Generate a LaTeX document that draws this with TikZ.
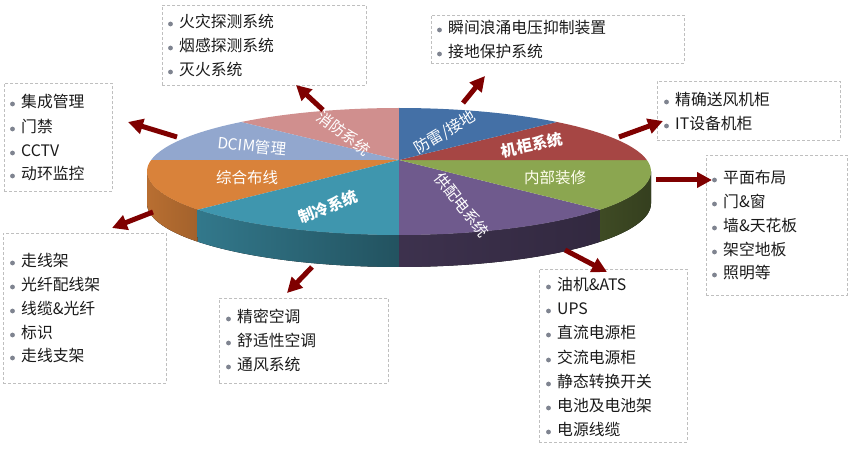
\documentclass[tikz,border=0pt]{standalone}
\usepackage{fontspec}
\setmainfont{Noto Sans CJK SC}
\usetikzlibrary{arrows.meta}
\definecolor{cFire}{HTML}{D08F8E}
\definecolor{cLight}{HTML}{4470A6}
\definecolor{cCab}{HTML}{A64644}
\definecolor{cInt}{HTML}{8BA650}
\definecolor{cPow}{HTML}{6F5A8D}
\definecolor{cCool}{HTML}{3F96AE}
\definecolor{cWire}{HTML}{D9823A}
\definecolor{cDcim}{HTML}{92A7CE}
\definecolor{cArrow}{HTML}{7F0000}
\definecolor{cBox}{HTML}{BFBFBF}
\definecolor{cBul}{HTML}{7F8490}
\definecolor{cTxt}{HTML}{1A1A1A}
\newcommand\bitem[4]{\fill[cBul] (#2-8.5,#3+1) circle (2.4pt); \node[item] (#1) at (#2,#3+1) {#4};}
\def\cx{399}\def\cy{171.5}\def\ra{252}\def\rb{63.5}\def\dep{32}
\begin{document}
\begin{tikzpicture}[x=1pt,y=-1pt,
  boxx/.style={draw=cBox, dash pattern=on 3pt off 2pt, line width=0.8pt, inner sep=0pt, anchor=north west},
  item/.style={anchor=west, inner sep=0pt, text=cTxt, font=\fontsize{15.8}{18}\selectfont, text height=0.88em, text depth=0.12em},
  lbl/.style={inner sep=0pt, text=white, font=\fontsize{15.5}{18}\selectfont},
  arr/.style={draw=cArrow, line width=5pt, -{Triangle[length=15pt,width=15pt]}}]
\useasboundingbox (0,0) rectangle (852,449);
% sides
\fill[left color=cWire!85!black, right color=cWire!75!black]
  plot[domain=180:217,samples=30] ({\cx+\ra*cos(\x)},{\cy-\rb*sin(\x)})
  -- plot[domain=217:180,samples=30] ({\cx+\ra*cos(\x)},{\cy+\dep-\rb*sin(\x)}) -- cycle;
\fill[left color=cCool!80!black, right color=cCool!55!black]
  plot[domain=217:270,samples=40] ({\cx+\ra*cos(\x)},{\cy-\rb*sin(\x)})
  -- plot[domain=270:217,samples=40] ({\cx+\ra*cos(\x)},{\cy+\dep-\rb*sin(\x)}) -- cycle;
\fill[left color=cPow!55!black, right color=cPow!45!black]
  plot[domain=270:323,samples=40] ({\cx+\ra*cos(\x)},{\cy-\rb*sin(\x)})
  -- plot[domain=323:270,samples=40] ({\cx+\ra*cos(\x)},{\cy+\dep-\rb*sin(\x)}) -- cycle;
\fill[left color=cInt!45!black, right color=cInt!38!black]
  plot[domain=323:360,samples=30] ({\cx+\ra*cos(\x)},{\cy-\rb*sin(\x)})
  -- plot[domain=360:323,samples=30] ({\cx+\ra*cos(\x)},{\cy+\dep-\rb*sin(\x)}) -- cycle;
% tops
\fill[cFire]  (399,160) -- plot[domain=90:128.8,samples=30] ({\cx+\ra*cos(\x)},{\cy-\rb*sin(\x)}) -- cycle;
\fill[cDcim]  (399,160) -- plot[domain=128.8:169.6,samples=30] ({\cx+\ra*cos(\x)},{\cy-\rb*sin(\x)}) -- cycle;
\fill[cWire]  (399,160) -- plot[domain=169.6:217,samples=30] ({\cx+\ra*cos(\x)},{\cy-\rb*sin(\x)}) -- cycle;
\fill[cCool]  (399,160) -- plot[domain=217:270,samples=40] ({\cx+\ra*cos(\x)},{\cy-\rb*sin(\x)}) -- cycle;
\fill[cPow]   (399,160) -- plot[domain=270:323,samples=40] ({\cx+\ra*cos(\x)},{\cy-\rb*sin(\x)}) -- cycle;
\fill[cInt]   (399,160) -- plot[domain=323:370.4,samples=30] ({\cx+\ra*cos(\x)},{\cy-\rb*sin(\x)}) -- cycle;
\fill[cCab]   (399,160) -- plot[domain=10.4:51.2,samples=30] ({\cx+\ra*cos(\x)},{\cy-\rb*sin(\x)}) -- cycle;
\fill[cLight] (399,160) -- plot[domain=51.2:90,samples=30] ({\cx+\ra*cos(\x)},{\cy-\rb*sin(\x)}) -- cycle;
% slice labels
\node[lbl, rotate=-37] (lFire) at (344,133) {消防系统};
\node[lbl, rotate=-6] (lDcim) at (252,146) {DCIM管理};
\node[lbl] (lWire) at (247,178) {综合布线};
\node[lbl, rotate=21, font=\fontsize{15.5}{18}\selectfont\bfseries] (lCool) at (328,207) {制冷系统};
\node[lbl, rotate=31] (lLight) at (445,133) {防雷/接地};
\node[lbl, rotate=12, font=\fontsize{15.5}{18}\selectfont\bfseries] (lCab) at (532,145) {机柜系统};
\node[lbl, text=white!93!yellow] (lInt) at (555,178) {内部装修};
\node[lbl, rotate=-52] (lPow) at (462,205) {供配电系统};
% boxes
\node[boxx, minimum width=204pt, minimum height=80pt] (bFire) at (162,5) {};
\bitem{f1}{179}{23}{火灾探测系统}
\bitem{f2}{179}{47}{烟感探测系统}
\bitem{f3}{179}{71}{灭火系统}
\node[boxx, minimum width=108pt, minimum height=108pt] (bDcim) at (4,83) {};
\bitem{d1}{21}{103}{集成管理}
\bitem{d2}{21}{128}{门禁}
\bitem{d3}{21}{152}{CCTV}
\bitem{d4}{21}{175}{动环监控}
\node[boxx, minimum width=253pt, minimum height=48pt] (bLight) at (431,15) {};
\bitem{g1}{448}{29}{瞬间浪涌电压抑制装置}
\bitem{g2}{448}{53}{接地保护系统}
\node[boxx, minimum width=183pt, minimum height=59pt] (bCab) at (657,81) {};
\bitem{c1}{675}{101}{精确送风机柜}
\bitem{c2}{675}{125}{IT设备机柜}
\node[boxx, minimum width=141pt, minimum height=140pt] (bInt) at (706,155) {};
\bitem{i1}{723}{179}{平面布局}
\bitem{i2}{723}{203}{门\&窗}
\bitem{i3}{723}{227}{墙\&天花板}
\bitem{i4}{723}{251}{架空地板}
\bitem{i5}{723}{274}{照明等}
\node[boxx, minimum width=148pt, minimum height=173pt] (bPow) at (539,269) {};
\bitem{p1}{557}{286}{油机\&ATS}
\bitem{p2}{557}{310}{UPS}
\bitem{p3}{557}{334}{直流电源柜}
\bitem{p4}{557}{359}{交流电源柜}
\bitem{p5}{557}{383}{静态转换开关}
\bitem{p6}{557}{407}{电池及电池架}
\bitem{p7}{557}{431}{电源线缆}
\node[boxx, minimum width=163pt, minimum height=150pt] (bWire) at (3,233) {};
\bitem{w1}{21}{262}{走线架}
\bitem{w2}{21}{286}{光纤配线架}
\bitem{w3}{21}{310}{线缆\&光纤}
\bitem{w4}{21}{334}{标识}
\bitem{w5}{21}{357}{走线支架}
\node[boxx, minimum width=169pt, minimum height=85pt] (bCool) at (219,298) {};
\bitem{k1}{237}{318}{精密空调}
\bitem{k2}{237}{342}{舒适性空调}
\bitem{k3}{237}{366}{通风系统}
% arrows
\coordinate (sDcim) at (177,137); \coordinate (eDcim) at (128,122);
\coordinate (sFire) at (323,110); \coordinate (eFire) at (296,85);
\coordinate (sLight) at (463,103); \coordinate (eLight) at (485,76);
\coordinate (sCab) at (619,137); \coordinate (eCab) at (663,121);
\coordinate (sInt) at (656,180); \coordinate (eInt) at (712,180);
\coordinate (sPow) at (565,250); \coordinate (ePow) at (607,272);
\coordinate (sCool) at (312,267); \coordinate (eCool) at (287,293);
\coordinate (sWire) at (153,212); \coordinate (eWire) at (112,228);
\draw[arr] (sDcim) -- (eDcim);
\draw[arr] (sFire) -- (eFire);
\draw[arr] (sLight) -- (eLight);
\draw[arr] (sCab) -- (eCab);
\draw[arr] (sInt) -- (eInt);
\draw[arr] (sPow) -- (ePow);
\draw[arr] (sCool) -- (eCool);
\draw[arr] (sWire) -- (eWire);
\end{tikzpicture}
\end{document}
